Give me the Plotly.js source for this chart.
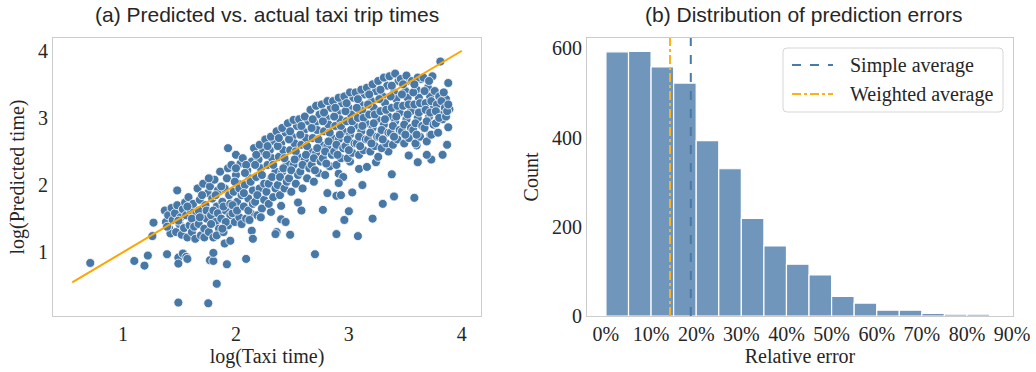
<!DOCTYPE html>
<html>
<head>
<meta charset="utf-8">
<script src="https://cdn.plot.ly/plotly-3.0.1.min.js"></script>
<style>html,body{margin:0;padding:0;background:#fff;}#chart{width:1036px;height:372px;}</style>
</head>
<body>
<div id="chart"></div>
<script>
// ---- Panel (a): log(Taxi time) vs log(Predicted time) ----
const scatterPoints = [
  // outliers
  [0.71,0.84],[1.10,0.87],[1.19,0.80],[1.22,0.95],[1.27,1.44],[1.26,1.24],[1.39,0.97],[1.49,0.25],[1.48,1.92],
  [1.49,0.92],[1.49,0.83],[1.53,0.98],[1.56,0.93],[1.57,0.90],[1.755,0.24],[1.83,0.53],[1.77,0.88],[1.80,0.87],
  [1.80,0.99],[1.92,0.82],[1.90,1.13],[1.95,1.17],[2.09,0.90],[2.14,1.32],[2.15,1.20],[1.93,2.55],[2.00,2.45],
  [2.31,1.60],[2.36,1.30],[2.35,1.27],[2.40,1.49],[2.44,1.45],[2.48,1.26],[2.40,1.69],[2.55,1.74],[2.58,1.62],
  [2.70,0.97],[2.77,1.63],[2.81,1.88],[2.89,1.27],[2.91,2.17],[2.95,2.12],[2.89,1.84],[2.93,1.85],[2.91,2.03],
  [2.96,1.48],[3.00,1.61],[3.03,1.89],[3.08,1.24],[3.09,2.24],[3.12,2.00],[3.16,2.27],[3.21,1.50],[3.24,2.34],
  [3.30,1.72],[3.38,2.16],[3.40,1.83],[3.58,1.81],[3.61,2.34],[3.73,2.38],[3.69,2.45],[3.83,2.45],[3.87,2.60],
  [3.88,2.86],[3.88,3.52],[3.81,3.84],[3.72,2.75],[3.89,3.13],[3.86,3.28],[3.60,2.59],[3.53,2.44],[3.26,2.42],
  [3.35,2.50],[3.01,2.35],
  // dense cloud
  [1.37,1.62],[1.38,1.45],[1.40,1.55],[1.41,1.35],[1.43,1.66],[1.44,1.48],[1.42,1.28],[1.39,1.38],
  [1.46,1.58],[1.47,1.30],[1.48,1.70],[1.50,1.42],[1.51,1.52],[1.52,1.26],[1.53,1.64],[1.54,1.36],[1.49,1.47],[1.55,1.74],
  [1.56,1.55],[1.57,1.22],[1.58,1.82],[1.59,1.40],[1.60,1.62],[1.61,1.30],[1.62,1.72],[1.63,1.48],[1.64,1.20],[1.65,1.58],[1.57,1.68],[1.61,1.50],[1.63,1.38],
  [1.66,1.95],[1.67,1.42],[1.68,1.78],[1.69,1.25],[1.70,1.60],[1.71,2.02],[1.72,1.35],[1.73,1.70],[1.74,1.50],[1.75,1.88],[1.67,1.62],[1.70,1.85],[1.72,1.22],[1.74,1.62],[1.68,1.52],
  [1.76,1.30],[1.77,1.98],[1.78,1.55],[1.79,1.80],[1.80,1.22],[1.81,2.08],[1.82,1.45],[1.83,1.68],[1.84,1.92],[1.85,1.35],[1.78,1.42],[1.80,1.62],[1.82,1.85],[1.84,1.58],[1.76,2.10],[1.83,1.25],
  [1.86,2.20],[1.87,1.50],[1.88,1.75],[1.89,1.30],[1.90,1.95],[1.91,1.62],[1.92,2.10],[1.93,1.40],[1.94,1.85],[1.95,1.55],[1.87,1.98],[1.89,1.68],[1.91,1.45],[1.93,2.25],[1.95,1.72],[1.88,1.35],
  [1.96,2.30],[1.97,1.58],[1.98,1.90],[1.99,1.45],[2.00,2.15],[2.01,1.75],[2.02,2.02],[2.03,1.52],[2.04,2.32],[2.05,1.85],[1.97,1.70],[1.99,2.05],[2.01,1.62],[2.03,1.95],[2.05,1.42],[2.00,2.25],
  [2.06,2.40],[2.07,1.68],[2.08,2.00],[2.09,1.50],[2.10,2.22],[2.11,1.80],[2.12,2.10],[2.13,1.58],[2.14,2.35],[2.15,1.92],[2.07,1.88],[2.09,2.30],[2.11,1.62],[2.13,2.05],[2.15,1.72],[2.08,2.18],[2.12,1.48],
  [2.16,2.55],[2.17,1.75],[2.18,2.12],[2.19,1.55],[2.20,2.38],[2.21,1.95],[2.22,2.25],[2.23,1.65],[2.24,2.50],[2.25,2.02],[2.17,2.30],[2.19,1.85],[2.21,2.60],[2.23,2.15],[2.25,1.78],[2.18,2.45],[2.22,1.52],
  [2.26,2.68],[2.27,1.90],[2.28,2.30],[2.29,1.72],[2.30,2.52],[2.31,2.10],[2.32,2.40],[2.33,1.82],[2.34,2.65],[2.35,2.20],[2.27,2.45],[2.29,2.02],[2.31,2.72],[2.33,2.30],[2.35,1.95],[2.28,2.58],[2.32,2.12],
  [2.36,2.80],[2.37,2.00],[2.38,2.42],[2.39,1.85],[2.40,2.62],[2.41,2.20],[2.42,2.52],[2.43,1.95],[2.44,2.78],[2.45,2.32],[2.37,2.58],[2.39,2.12],[2.41,2.85],[2.43,2.40],[2.45,2.05],[2.38,2.70],[2.42,2.25],
  [2.46,2.92],[2.47,2.10],[2.48,2.52],[2.49,1.90],[2.50,2.72],[2.51,2.30],[2.52,2.62],[2.53,2.02],[2.54,2.88],[2.55,2.42],[2.47,2.68],[2.49,2.22],[2.51,2.97],[2.53,2.50],[2.55,2.15],[2.48,2.80],[2.52,2.38],
  [2.56,2.98],[2.57,2.20],[2.58,2.60],[2.59,1.95],[2.60,2.80],[2.61,2.38],[2.62,2.70],[2.63,2.10],[2.64,2.95],[2.65,2.50],[2.57,2.75],[2.59,2.30],[2.61,3.02],[2.63,2.58],[2.65,2.25],[2.58,2.88],[2.62,2.45],
  [2.66,3.12],[2.67,2.30],[2.68,2.70],[2.69,2.05],[2.70,2.92],[2.71,2.48],[2.72,2.82],[2.73,2.18],[2.74,3.05],[2.75,2.60],[2.67,2.85],[2.69,2.40],[2.71,3.18],[2.73,2.68],[2.75,2.35],[2.68,2.98],[2.72,2.55],[2.70,2.22],
  [2.76,3.20],[2.77,2.40],[2.78,2.80],[2.79,2.15],[2.80,3.00],[2.81,2.58],[2.82,2.90],[2.83,2.28],[2.84,3.15],[2.85,2.70],[2.77,2.95],[2.79,2.50],[2.81,3.25],[2.83,2.78],[2.85,2.45],[2.78,3.08],[2.82,2.65],[2.80,2.32],
  [2.86,3.25],[2.87,2.50],[2.88,2.88],[2.89,2.30],[2.90,3.08],[2.91,2.68],[2.92,2.98],[2.93,2.40],[2.94,3.22],[2.95,2.80],[2.87,3.02],[2.89,2.60],[2.91,3.30],[2.93,2.88],[2.95,2.55],[2.88,3.15],[2.92,2.75],[2.90,2.45],
  [2.96,3.32],[2.97,2.58],[2.98,2.95],[2.99,2.40],[3.00,3.15],[3.01,2.75],[3.02,3.05],[3.03,2.48],[3.04,3.30],[3.05,2.88],[2.97,3.10],[2.99,2.68],[3.01,3.38],[3.03,2.95],[3.05,2.62],[2.98,3.22],[3.02,2.82],[3.00,2.52],
  [3.06,3.38],[3.07,2.62],[3.08,3.00],[3.09,2.45],[3.10,3.20],[3.11,2.80],[3.12,3.10],[3.13,2.52],[3.14,3.35],[3.15,2.92],[3.07,3.15],[3.09,2.72],[3.11,3.42],[3.13,3.00],[3.15,2.68],[3.08,3.28],[3.12,2.88],[3.10,2.58],
  [3.16,3.45],[3.17,2.68],[3.18,3.05],[3.19,2.50],[3.20,3.25],[3.21,2.85],[3.22,3.15],[3.23,2.58],[3.24,3.40],[3.25,2.98],[3.17,3.20],[3.19,2.78],[3.21,3.50],[3.23,3.05],[3.25,2.72],[3.18,3.35],[3.22,2.92],[3.20,2.62],
  [3.26,3.55],[3.27,2.72],[3.28,3.10],[3.29,2.55],[3.30,3.32],[3.31,2.90],[3.32,3.22],[3.33,2.62],[3.34,3.48],[3.35,3.02],[3.27,3.28],[3.29,2.82],[3.31,3.60],[3.33,3.12],[3.35,2.78],[3.28,3.42],[3.32,2.98],[3.30,2.68],
  [3.36,3.62],[3.37,2.78],[3.38,3.15],[3.39,2.60],[3.40,3.38],[3.41,2.95],[3.42,3.28],[3.43,2.68],[3.44,3.55],[3.45,3.08],[3.37,3.32],[3.39,2.88],[3.41,3.66],[3.43,3.18],[3.45,2.82],[3.38,3.48],[3.42,3.02],[3.40,2.72],
  [3.46,3.58],[3.47,2.80],[3.48,3.18],[3.49,2.62],[3.50,3.40],[3.51,2.98],[3.52,3.30],[3.53,2.70],[3.54,3.55],[3.55,3.10],[3.47,3.35],[3.49,2.90],[3.51,3.63],[3.53,3.20],[3.55,2.85],[3.48,3.50],[3.52,3.05],[3.50,2.75],
  [3.56,3.55],[3.57,2.82],[3.58,3.20],[3.59,2.62],[3.60,3.42],[3.61,3.00],[3.62,3.30],[3.63,2.72],[3.64,3.58],[3.65,3.12],[3.57,3.38],[3.59,2.92],[3.61,3.60],[3.63,3.22],[3.65,2.88],[3.58,3.50],[3.62,3.08],[3.60,2.75],
  [3.66,3.60],[3.67,2.85],[3.68,3.22],[3.69,2.65],[3.70,3.45],[3.71,3.02],[3.72,3.32],[3.73,2.75],[3.74,3.62],[3.75,3.15],[3.67,3.40],[3.69,2.95],[3.71,3.55],[3.73,3.25],[3.75,2.90],[3.68,3.12],[3.72,3.08],
  [3.76,3.40],[3.77,2.92],[3.78,3.20],[3.79,2.78],[3.80,3.32],[3.81,3.05],[3.82,3.25],[3.83,2.98],[3.84,3.38],[3.85,3.15],[3.77,3.10],[3.80,3.00],
  [3.86,3.02],[3.87,3.10],[3.88,3.20]
];
const taxiTime = scatterPoints.map(p => p[0]);
const predictedTime = scatterPoints.map(p => p[1]);
const fitLineX = [0.55, 4.0];
const fitLineY = [0.55, 4.0];

// ---- Panel (b): histogram of relative errors (5% bins) ----
const binStarts = [0,5,10,15,20,25,30,35,40,45,50,55,60,65,70,75,80];
const binCounts = [592,593,558,522,393,330,219,157,116,92,44,29,13,13,6,4,4];
const binWidth = 5;
const simpleAverage = 18.8;
const weightedAverage = 14.2;
const xTickVals = [0,10,20,30,40,50,60,70,80,90];
const xTickText = ['0%','10%','20%','30%','40%','50%','60%','70%','80%','90%'];
const legendLabels = ['Simple average', 'Weighted average'];

const serif = '"Liberation Serif", "Times New Roman", serif';
const sans = '"Liberation Sans", Arial, Helvetica, sans-serif';
const textColor = '#262626';
const frameColor = '#cccccc';
const yTop = 623;
const simpleColor = '#4a7aa6';
const weightedColor = '#fbb117';

const traces = [
  {type:'scatter', mode:'markers', x: taxiTime, y: predictedTime, xaxis:'x', yaxis:'y',
   marker:{color:'#4878a6', size:9, line:{color:'#ffffff', width:0.8}}, showlegend:false, hoverinfo:'skip'},
  {type:'scatter', mode:'lines', x: fitLineX, y: fitLineY, xaxis:'x', yaxis:'y',
   line:{color:'#ffa500', width:2}, showlegend:false},
  {type:'bar', x: binStarts.map(b => b + binWidth/2), y: binCounts, width: binWidth, xaxis:'x2', yaxis:'y2',
   marker:{color:'#7096bc', line:{color:'#ffffff', width:1.2}}, showlegend:false},
  {type:'scatter', mode:'lines', x:[simpleAverage, simpleAverage], y:[0, yTop], xaxis:'x2', yaxis:'y2',
   name:legendLabels[0], line:{color:simpleColor, width:2, dash:'dash'}, showlegend:false},
  {type:'scatter', mode:'lines', x:[weightedAverage, weightedAverage], y:[0, yTop], xaxis:'x2', yaxis:'y2',
   name:legendLabels[1], line:{color:weightedColor, width:2, dash:'dashdot'}, showlegend:false}
];

const axisCommon = {showgrid:false, zeroline:false, showline:true, mirror:true, linecolor:frameColor, linewidth:1,
  ticks:'', tickfont:{family:serif, size:20, color:textColor}};

// legend box (paper coordinates from pixel positions)
const W = 1036, H = 372;
const px = v => v / W, py = v => 1 - v / H;
const lx0 = 783, lx1 = 1003, ly0 = 48, ly1 = 112, rr = 4;
const legendPath = `M ${px(lx0+rr)},${py(ly0)} L ${px(lx1-rr)},${py(ly0)} Q ${px(lx1)},${py(ly0)} ${px(lx1)},${py(ly0+rr)} ` +
  `L ${px(lx1)},${py(ly1-rr)} Q ${px(lx1)},${py(ly1)} ${px(lx1-rr)},${py(ly1)} L ${px(lx0+rr)},${py(ly1)} ` +
  `Q ${px(lx0)},${py(ly1)} ${px(lx0)},${py(ly1-rr)} L ${px(lx0)},${py(ly0+rr)} Q ${px(lx0)},${py(ly0)} ${px(lx0+rr)},${py(ly0)} Z`;

const layout = {
  width:W, height:H, margin:{l:0, r:0, t:0, b:0},
  paper_bgcolor:'#ffffff', plot_bgcolor:'#ffffff',
  xaxis: Object.assign({}, axisCommon, {domain:[53/W, 481/W], range:[0.38, 4.17], tickvals:[1,2,3,4],
    title:{text:'log(Taxi time)', font:{family:serif, size:20, color:textColor}, standoff:4}}),
  yaxis: Object.assign({}, axisCommon, {domain:[1-316/H, 1-38/H], range:[0.05, 4.19], tickvals:[1,2,3,4],
    title:{text:'log(Predicted time)', font:{family:serif, size:20, color:textColor}, standoff:8}}),
  xaxis2: Object.assign({}, axisCommon, {domain:[587/W, 1013/W], range:[-4.2, 90.2], tickvals:xTickVals, ticktext:xTickText, anchor:'y2',
    title:{text:'Relative error', font:{family:serif, size:20, color:textColor}, standoff:4}}),
  yaxis2: Object.assign({}, axisCommon, {domain:[1-316/H, 1-38/H], range:[0, yTop], tickvals:[0,200,400,600], anchor:'x2',
    title:{text:'Count', font:{family:serif, size:20, color:textColor}, standoff:8}}),
  bargap:0,
  showlegend:false,
  shapes:[
    {type:'path', xref:'paper', yref:'paper', path:legendPath, fillcolor:'rgba(255,255,255,0.9)', line:{color:'#d6d6d6', width:1}, layer:'above'},
    {type:'line', xref:'paper', yref:'paper', x0:px(792), x1:px(833), y0:py(65), y1:py(65), line:{color:simpleColor, width:2, dash:'dash'}, layer:'above'},
    {type:'line', xref:'paper', yref:'paper', x0:px(792), x1:px(833), y0:py(94), y1:py(94), line:{color:weightedColor, width:2, dash:'dashdot'}, layer:'above'}
  ],
  annotations:[
    {text:'(a) Predicted vs. actual taxi trip times', xref:'paper', yref:'paper', x:267/W, y:1-15/H, xanchor:'center', yanchor:'middle',
     showarrow:false, font:{family:sans, size:21, color:textColor}},
    {text:'(b) Distribution of prediction errors', xref:'paper', yref:'paper', x:803/W, y:1-15/H, xanchor:'center', yanchor:'middle',
     showarrow:false, font:{family:sans, size:21, color:textColor}},
    {text:legendLabels[0], xref:'paper', yref:'paper', x:px(848), y:py(65), xanchor:'left', yanchor:'middle', showarrow:false,
     font:{family:serif, size:20, color:textColor}},
    {text:legendLabels[1], xref:'paper', yref:'paper', x:px(848), y:py(94), xanchor:'left', yanchor:'middle', showarrow:false,
     font:{family:serif, size:20, color:textColor}}
  ]
};

Plotly.newPlot('chart', traces, layout, {displayModeBar:false, staticPlot:true});
</script>
</body>
</html>
